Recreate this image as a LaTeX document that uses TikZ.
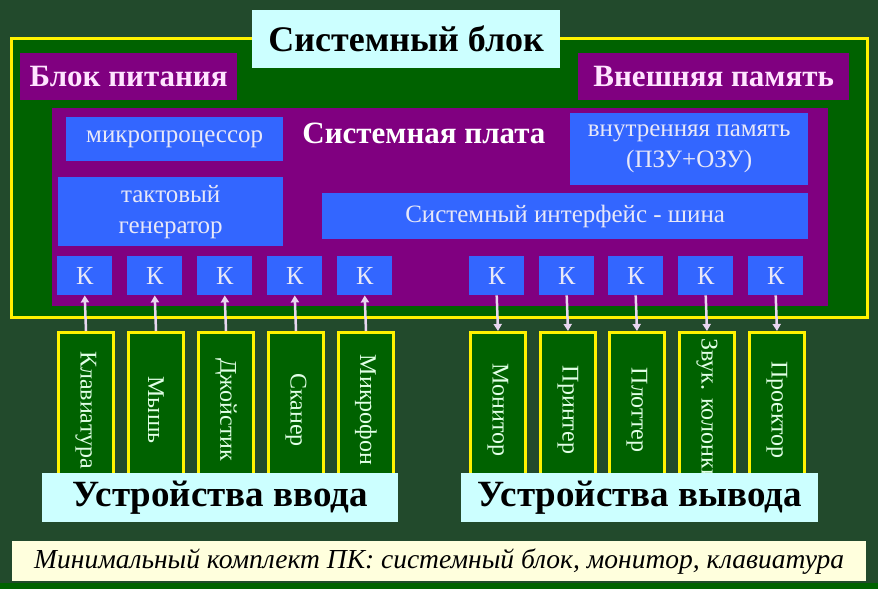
\documentclass[tikz,border=0pt]{standalone}
\usepackage{fontspec}
\setmainfont{Liberation Serif}
\usetikzlibrary{calc,arrows.meta,positioning}
\definecolor{bggreen}{RGB}{34,74,44}
\definecolor{sysgreen}{RGB}{0,98,0}
\definecolor{plate}{RGB}{128,0,128}
\definecolor{chip}{RGB}{51,102,255}
\definecolor{paleblue}{RGB}{204,255,255}
\definecolor{paleyellow}{RGB}{255,255,221}
\definecolor{pinktext}{RGB}{255,228,255}
\definecolor{chiptext}{RGB}{232,232,248}
\definecolor{devtext}{RGB}{225,255,230}
\definecolor{wire}{RGB}{232,214,240}

\begin{document}
\begin{tikzpicture}[x=1pt,y=-1pt,
     >={Triangle[width=8pt,length=7pt]},
     every node/.style={inner sep=0pt,align=center,anchor=north west},
     sysbox/.style={draw=yellow,line width=3pt,fill=sysgreen},
     headbox/.style={fill=paleblue,text=black,font=\bfseries\fontsize{36}{38}\selectfont},
     unitbox/.style={fill=plate,text=pinktext,font=\bfseries\fontsize{31}{33}\selectfont},
     chipbox/.style={fill=chip,text=chiptext,font=\fontsize{25}{31}\selectfont},
     kbox/.style={chipbox,minimum width=55pt,minimum height=39pt,font=\fontsize{26}{28}\selectfont},
     devbox/.style={draw=yellow,line width=3pt,fill=sysgreen,minimum width=55pt,minimum height=157pt},
     devlabel/.style={anchor=center,rotate=-90,text=devtext,font=\fontsize{24}{26}\selectfont},
     grpbox/.style={fill=paleblue,text=black,minimum height=49pt,font=\bfseries\fontsize{37}{39}\selectfont},
     wirein/.style={draw=wire,line width=2.5pt,->},
     wireout/.style={draw=wire,line width=2.5pt,->}]
  % background
  \fill[bggreen] (0,0) rectangle (878,589);
  \useasboundingbox (0,0) rectangle (878,589);

  % system block
  \node[sysbox,minimum width=856pt,minimum height=279pt] (sys) at (10,37) {};
  \node[headbox,minimum width=308pt,minimum height=58pt] (head) at (252,10) {Системный блок};
  \node[unitbox,minimum width=217pt,minimum height=47pt] (power) at (20,53) {Блок питания};
  \node[unitbox,minimum width=271pt,minimum height=47pt] (extmem) at (578,53) {Внешняя память};

  % motherboard
  \node[fill=plate,minimum width=776pt,minimum height=198pt] (board) at (52,108) {};
  \node[anchor=center,text=white,font=\bfseries\fontsize{31}{33}\selectfont] (boardname) at (424,133) {Системная плата};
  \node[chipbox,minimum width=217pt,minimum height=44pt] (cpu) at (66,117) {микропроцессор};
  \node[chipbox,minimum width=238pt,minimum height=72pt] (mem) at (570,113) {внутренняя память\\(ПЗУ+ОЗУ)};
  \node[chipbox,minimum width=225pt,minimum height=69pt] (clock) at (58,177) {тактовый\\генератор};
  \node[chipbox,minimum width=486pt,minimum height=46pt] (bus) at (322,193) {Системный интерфейс - шина};

  % controllers and devices
  \foreach \i/\x/\name in {1/57/Клавиатура,2/127/Мышь,3/197/Джойстик,4/267/Сканер,5/337/Микрофон}{
    \node[kbox] (kin\i) at (\x,256) {К};
    \node[devbox] (din\i) at (\x,331) {};
    \node[devlabel] at ($(din\i.north)+(0,79)$) {\name};
    \draw[wirein] (din\i.north) -- (kin\i.south);
  }
  \foreach \i/\x/\name in {1/469/Монитор,2/539/Принтер,3/608/Плоттер,4/678/Звук. колонки,5/748/Проектор}{
    \node[kbox] (kout\i) at (\x,256) {К};
    \node[devbox] (dout\i) at (\x,331) {};
    \node[devlabel] at ($(dout\i.north)+(0,79)$) {\name};
    \draw[wireout] (kout\i.south) -- (dout\i.north);
  }

  % groups
  \node[grpbox,minimum width=356pt] (input) at (42,473) {Устройства ввода};
  \node[grpbox,minimum width=357pt] (output) at (461,473) {Устройства вывода};

  % caption
  \fill[sysgreen] (0,583) rectangle (878,589);
  \node[fill=paleyellow,minimum width=854pt,minimum height=40pt,font=\itshape\fontsize{27.5}{29}\selectfont] (note) at (12,541)
    {Минимальный комплект ПК: системный блок, монитор, клавиатура};
\end{tikzpicture}
\end{document}
